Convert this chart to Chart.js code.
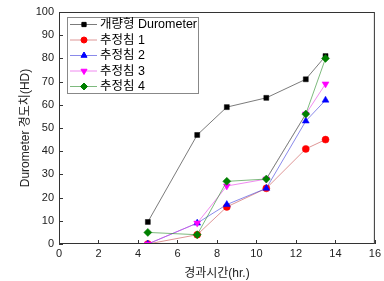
<!DOCTYPE html>
<html><head><meta charset="utf-8">
<script src="https://cdn.jsdelivr.net/npm/chart.js@4/dist/chart.umd.min.js"></script>
<style>html,body{margin:0;padding:0;background:#fff}</style>
</head><body>
<canvas id="c" width="384" height="281"></canvas>
<script>
const hours = [4.5, 7, 8.5, 10.5, 12.5, 13.5];
const durometer = [9.5, 47, 59, 63, 71, 81];
const needle1 = [0, 4, 16, 24, 41, 45];
const needle2 = [0, 9, 17, 24, 53, 62];
const needle3 = [0, 9, 25, 28, 56, 69];
const needle4 = [5, 4, 27, 28, 56, 80];
const seriesNames = ['개량형 Durometer', '추정침 1', '추정침 2', '추정침 3', '추정침 4'];
const xTitle = '경과시간(hr.)';
const yTitle = 'Durometer 경도치(HD)';

const FONT = '"Liberation Sans", Arial, "Noto Sans CJK KR", sans-serif';
const pts = v => hours.map((h, i) => ({x: h, y: v[i]}));
const styles = [
  {c:'#000000', l:'rgba(90,90,90,0.8)', s:'rect', r:3.5, rot:0},
  {c:'#ff0000', l:'rgba(200,80,80,0.6)', s:'circle', r:3.5, rot:0},
  {c:'#0000ff', l:'rgba(60,60,220,0.6)', s:'triangle', r:4, rot:0},
  {c:'#ff00ff', l:'rgba(230,60,230,0.6)', s:'triangle', r:4, rot:180},
  {c:'#008000', l:'rgba(40,140,40,0.6)', s:'rectRot', r:4, rot:0},
];
const vals = [durometer, needle1, needle2, needle3, needle4];
const datasets = vals.map((v, i) => ({
  label: seriesNames[i], data: pts(v), showLine: true,
  borderColor: styles[i].l, borderWidth: 1,
  pointBackgroundColor: styles[i].c, pointBorderColor: styles[i].c,
  pointStyle: styles[i].s, pointRadius: styles[i].r, pointRotation: styles[i].rot,
  pointBorderWidth: 0.5
})).reverse();

const framePlugin = {
  id: 'frame',
  afterDraw(chart) {
    const ctx = chart.ctx, a = chart.chartArea;
    ctx.save();
    ctx.strokeStyle = '#333'; ctx.lineWidth = 1;
    ctx.strokeRect(a.left + 0.5, a.top + 0.5, a.right - a.left - 1, a.bottom - a.top - 1);
    const xs = chart.scales.x, ys = chart.scales.y;
    ctx.beginPath();
    xs.ticks.forEach(t => { const px = Math.round(xs.getPixelForValue(t.value)) + 0.5;
      ctx.moveTo(px, a.bottom); ctx.lineTo(px, a.bottom - 4); });
    ys.ticks.forEach(t => { const py = Math.round(ys.getPixelForValue(t.value)) + 0.5;
      ctx.moveTo(a.left, py); ctx.lineTo(a.left + 4, py); });
    ctx.stroke();
    // legend
    const lx = 67, ly = 17, lw = 131, lh = 76;
    ctx.fillStyle = '#fff'; ctx.fillRect(lx, ly, lw, lh);
    ctx.strokeStyle = '#888'; ctx.strokeRect(lx + 0.5, ly + 0.5, lw, lh);
    ctx.font = '12.5px ' + FONT; ctx.textBaseline = 'middle'; ctx.textAlign = 'left';
    seriesNames.forEach((n, i) => {
      const y = 24.5 + i * 15.5, st = styles[i];
      ctx.strokeStyle = st.l; ctx.lineWidth = 1;
      ctx.beginPath(); ctx.moveTo(70, y); ctx.lineTo(97, y); ctx.stroke();
      ctx.fillStyle = st.c; ctx.strokeStyle = st.c;
      ctx.beginPath();
      Chart.helpers.drawPoint(ctx, {pointStyle: st.s, radius: st.r - 0.5, rotation: st.rot, borderWidth: 0.5}, 84, y);
      ctx.fillStyle = '#000';
      ctx.fillText(n, 100, y + 0.5);
    });
    ctx.restore();
  }
};

new Chart(document.getElementById('c'), {
  type: 'scatter',
  data: { datasets },
  options: {
    responsive: false, animation: false,
    layout: { padding: { top: 12, right: 9, left: 14, bottom: 0 } },
    plugins: { legend: { display: false }, tooltip: { enabled: false } },
    scales: {
      x: { type: 'linear', min: 0, max: 16,
        ticks: { stepSize: 2, color: '#222', font: { family: FONT, size: 11 }, padding: 3 },
        grid: { display: false, drawTicks: false },
        border: { display: false },
        title: { display: true, text: xTitle, color: '#222', font: { family: FONT, size: 12 }, padding: { top: 3, bottom: 0 } },
        afterFit(s) { s.height = 37; } },
      y: { min: 0, max: 100,
        ticks: { stepSize: 10, color: '#222', font: { family: FONT, size: 11 }, padding: 5 },
        grid: { display: false, drawTicks: false },
        border: { display: false },
        title: { display: true, text: yTitle, color: '#222', font: { family: FONT, size: 12 }, padding: { bottom: 2 } },
        afterFit(s) { s.width = 45; } }
    }
  },
  plugins: [framePlugin]
});
</script>
</body></html>
